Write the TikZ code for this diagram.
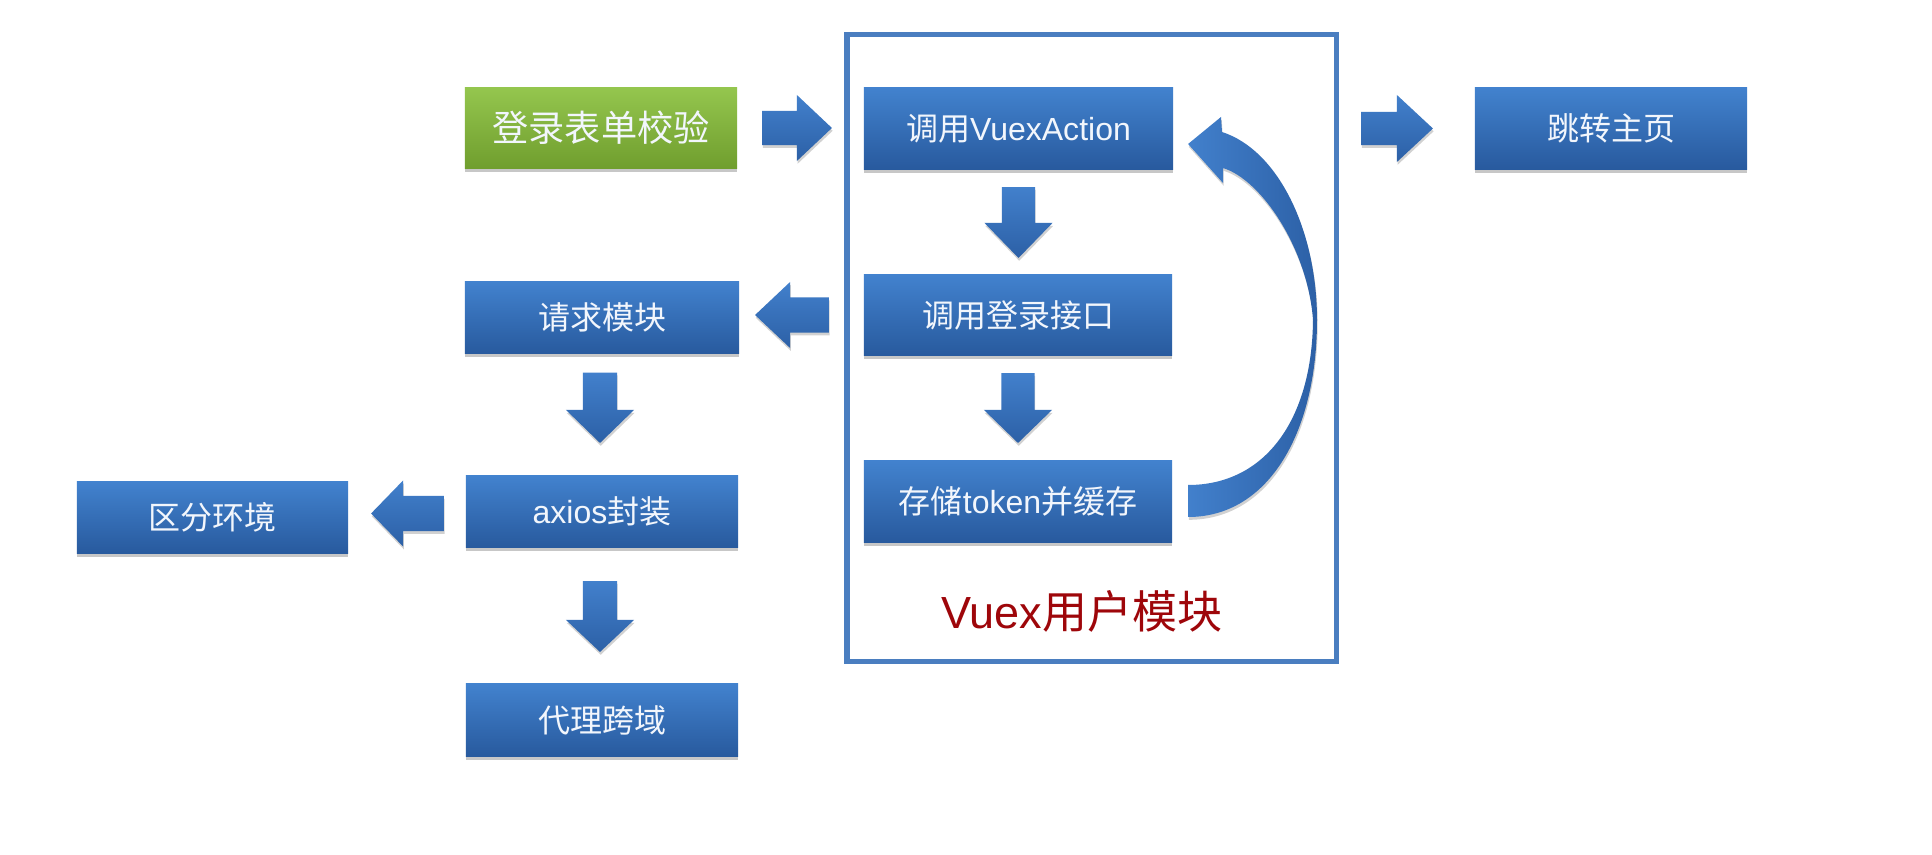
\documentclass[tikz,border=0pt]{standalone}
\usepackage{fontspec}
\setmainfont{Noto Sans CJK SC}
\newfontfamily\lat{Liberation Sans}
\usetikzlibrary{calc,shadows}
\definecolor{boxtop}{RGB}{66,130,206}
\definecolor{boxbot}{RGB}{40,90,158}
\definecolor{grtop}{RGB}{148,198,78}
\definecolor{grbot}{RGB}{112,158,46}
\definecolor{arrtop}{RGB}{66,128,204}
\definecolor{arrbot}{RGB}{44,96,166}
\definecolor{framecol}{RGB}{74,126,192}
\definecolor{labred}{RGB}{158,6,10}
\definecolor{txt}{RGB}{242,246,252}
\tikzset{
  bluebox/.style={rectangle, inner sep=0pt, outer sep=0pt, top color=boxtop, bottom color=boxbot,
    text=txt, font=\fontsize{9.1pt}{11pt}\selectfont,
    drop shadow={shadow xshift=0pt, shadow yshift=-1.1pt, opacity=0.22, fill=black}},
  greenbox/.style={bluebox, top color=grtop, bottom color=grbot, font=\fontsize{10.3pt}{12pt}\selectfont},
  arrowfill/.style={top color=arrtop, bottom color=arrbot,
    drop shadow={shadow xshift=0.2pt, shadow yshift=-0.8pt, opacity=0.18, fill=black}},
  framebox/.style={rectangle, draw=framecol, line width=1.5pt, fill=white, inner sep=0pt,
    drop shadow={shadow xshift=0.6pt, shadow yshift=-0.7pt, opacity=0.2, fill=black}},
}
% block arrow: #1 start, #2 tip, #3 shaft half width, #4 head half width, #5 head length
\newcommand\blockarr[5]{%
  \coordinate (hb) at ($(#2)!#5!(#1)$);
  \path[arrowfill] ($(#1)!#3!90:(#2)$) -- ($(hb)!#3!-90:(#1)$) -- ($(hb)!#4!-90:(#1)$) -- (#2)
    -- ($(hb)!#4!90:(#1)$) -- ($(hb)!#3!90:(#1)$) -- ($(#1)!#3!-90:(#2)$) -- cycle;
}
\begin{document}
\begin{tikzpicture}[x=0.01cm, y=-0.01cm]
\useasboundingbox (0,0) rectangle (1932,855);
\fill[white] (0,0) rectangle (1932,855);

% frame
\node[framebox, minimum width=4.89cm, minimum height=6.26cm] (frame) at (1091.5,348) {};
\node[text=labred, font=\fontsize{12.8pt}{15pt}\selectfont] (lab) at (1082,611) {{\lat Vuex}用户模块};

% boxes
\node[greenbox, minimum width=2.72cm, minimum height=0.80cm] (login) at (601,128) {登录表单校验};
\node[bluebox, minimum width=3.09cm, minimum height=0.81cm] (vaction) at (1018.5,128.5) {调用{\lat VuexAction}};
\node[bluebox, minimum width=3.08cm, minimum height=0.80cm] (vlogin) at (1018,315) {调用登录接口};
\node[bluebox, minimum width=3.08cm, minimum height=0.81cm] (vstore) at (1018,501.5) {存储{\lat token}并缓存};
\node[bluebox, minimum width=2.72cm, minimum height=0.81cm] (home) at (1611,128.5) {跳转主页};
\node[bluebox, minimum width=2.74cm, minimum height=0.72cm] (req) at (602,317.5) {请求模块};
\node[bluebox, minimum width=2.72cm, minimum height=0.71cm] (axios) at (602,511.5) {{\lat axios}封装};
\node[bluebox, minimum width=2.71cm, minimum height=0.71cm] (env) at (212.5,517.5) {区分环境};
\node[bluebox, minimum width=2.72cm, minimum height=0.72cm] (proxy) at (602,720) {代理跨域};

% arrow end coordinates
\coordinate (a1s) at ($(login.east)+(25,0)$);
\coordinate (a1e) at ($(a1s -| vaction.west)+(-32,0)$);
\coordinate (a2s) at ($(vaction.east)+(188,0)$);
\coordinate (a2e) at ($(a2s -| home.west)+(-42,0)$);
\coordinate (d1s) at ($(vaction.south)+(0,18)$);
\coordinate (d1e) at ($(d1s |- vlogin.north)+(0,-17)$);
\coordinate (d2s) at ($(vlogin.south)+(0,18)$);
\coordinate (d2e) at ($(d2s |- vstore.north)+(0,-18)$);
\coordinate (l1s) at ($(vlogin.west)+(-35,0)$);
\coordinate (l1e) at ($(l1s -| req.east)+(16,0)$);
\coordinate (d3s) at ($(req.south)+(-2,19)$);
\coordinate (d3e) at ($(d3s |- axios.north)+(0,-33)$);
\coordinate (l2s) at ($(axios.west)+(-22,2)$);
\coordinate (l2e) at ($(l2s -| env.east)+(23,0)$);
\coordinate (d4s) at ($(axios.south)+(-2,34)$);
\coordinate (d4e) at ($(d4s |- proxy.north)+(0,-32)$);

\blockarr{a1s}{a1e}{0.17cm}{0.33cm}{0.35cm}
\blockarr{a2s}{a2e}{0.165cm}{0.335cm}{0.36cm}
\blockarr{d1s}{d1e}{0.165cm}{0.34cm}{0.35cm}
\blockarr{d2s}{d2e}{0.165cm}{0.34cm}{0.33cm}
\blockarr{l1s}{l1e}{0.175cm}{0.33cm}{0.35cm}
\blockarr{d3s}{d3e}{0.17cm}{0.34cm}{0.33cm}
\blockarr{l2s}{l2e}{0.175cm}{0.33cm}{0.32cm}
\blockarr{d4s}{d4e}{0.17cm}{0.34cm}{0.32cm}

% curved return arrow from vstore to vaction
\coordinate (ct1) at ($(vstore.east)+(16,-16.5)$);
\coordinate (ct2) at ($(vstore.east)+(16,15.5)$);
\coordinate (ctip) at ($(vaction.east)+(15,15.5)$);
\path[arrowfill, left color=arrtop, right color=arrbot]
  (ct2) .. controls (1270,517) and (1317,430) .. (1317,320)
  .. controls (1317,230) and (1278,150) .. (1222,132)
  -- (1221,117) -- (ctip) -- (1223,183) -- (1223,168)
  .. controls (1262,180) and (1308,250) .. (1313,320)
  .. controls (1312,420) and (1265,485) .. (ct1) -- cycle;
\end{tikzpicture}
\end{document}
